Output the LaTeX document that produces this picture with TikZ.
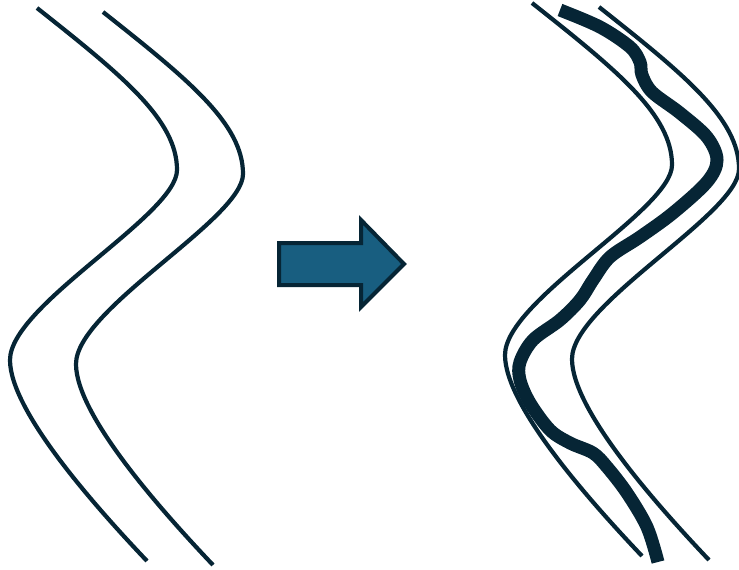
\documentclass[tikz,border=0pt]{standalone}
\definecolor{ink}{HTML}{062535}
\definecolor{arrowfill}{HTML}{185E80}
\tikzset{
  thinline/.style={draw=ink, line width=4.2pt},
  thickline/.style={draw=ink, line width=13pt, line cap=butt},
  bigarrow/.style={draw=ink, fill=arrowfill, line width=4pt, line join=miter}
}
\newcommand\wavypath{(37,8) .. controls (123,76) and (177,120) .. (177,170) .. controls (177,215) and (10,305) .. (10,360) .. controls (10,410) and (92,503) .. (147,561)}
\begin{document}
\begin{tikzpicture}[x=1pt,y=-1pt]
\useasboundingbox (0,0) rectangle (739,570);
% left pair
\draw[thinline] \wavypath;
\begin{scope}[shift={(66,4)}]
\draw[thinline] \wavypath;
\end{scope}
% right pair
\begin{scope}[shift={(495,-5)}]
\draw[thinline] \wavypath;
\end{scope}
\begin{scope}[shift={(562,-1)}]
\draw[thinline] \wavypath;
\end{scope}
% thick path
\draw[thickline] plot[smooth, tension=0.55] coordinates {
(560,10) (600,27) (630,47) (640,62) (642,75) (652,92) (680,113) (707,137)
(717,160) (707,182) (673,213) (640,237) (610,257) (593,280) (580,300)
(560,320) (533,340) (520,362) (520,380) (530,403) (550,430) (570,443)
(593,453) (607,467) (627,493) (647,527) (658,562)};
% arrow
\draw[bigarrow] (279,243) -- (361,243) -- (361,220) -- (404,264) -- (361,307) -- (361,285) -- (279,285) -- cycle;
\end{tikzpicture}
\end{document}
